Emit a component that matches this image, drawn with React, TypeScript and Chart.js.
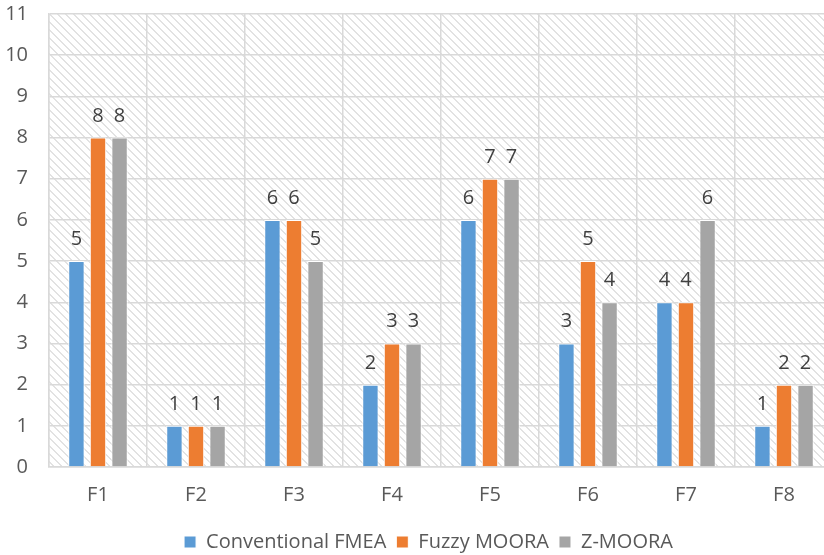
import { useEffect, useRef } from "react";
import { Chart, registerables } from "chart.js";

Chart.register(...registerables);

const categories = ["F1", "F2", "F3", "F4", "F5", "F6", "F7", "F8"];
const conventionalFMEA = [5, 1, 6, 2, 6, 3, 4, 1];
const fuzzyMOORA = [8, 1, 6, 3, 7, 5, 4, 2];
const zMOORA = [8, 1, 5, 3, 7, 4, 6, 2];
const seriesNames = ["Conventional FMEA", "Fuzzy MOORA", "Z-MOORA"];
const seriesColors = ["#5B9BD5", "#ED7D31", "#A5A5A5"];
const yMin = 0;
const yMax = 11;
const yStep = 1;

const FONT = "'Open Sans', 'DejaVu Sans', sans-serif";
const FS = 20;
const SHIFT = 19;

function makePattern(ctx: CanvasRenderingContext2D) {
  const c = document.createElement("canvas");
  c.width = 8;
  c.height = 8;
  const g = c.getContext("2d")!;
  g.fillStyle = "#ffffff";
  g.fillRect(0, 0, 8, 8);
  g.fillStyle = "#e2e2e2";
  for (let y = 0; y < 8; y++) {
    for (let x = 0; x < 8; x++) {
      const d = (((x - y) % 8) + 8) % 8;
      if (d === 0 || d === 1) g.fillRect(x, y, 1, 1);
    }
  }
  return ctx.createPattern(c, "repeat");
}

const hatchPlugin = {
  id: "hatchBg",
  beforeDraw(chart: any) {
    const { ctx, chartArea } = chart;
    if (!chartArea) return;
    ctx.save();
    const p = makePattern(ctx);
    if (p) ctx.fillStyle = p;
    ctx.fillRect(chartArea.left, chartArea.top, chartArea.right - chartArea.left, chartArea.bottom - chartArea.top);
    ctx.restore();
  },
};

const legendShift = {
  id: "legendShift",
  afterLayout(chart: any) {
    const lg = chart.legend;
    if (lg) {
      lg.left += 12;
      lg.right += 12;
      lg.top += 7;
      lg.bottom += 7;
    }
  },
};

const dataLabels = {
  id: "dataLabels",
  afterDatasetsDraw(chart: any) {
    const { ctx } = chart;
    ctx.save();
    ctx.font = `${FS}px ${FONT}`;
    ctx.fillStyle = "#404040";
    ctx.textAlign = "center";
    ctx.textBaseline = "alphabetic";
    chart.data.datasets.forEach((ds: any, i: number) => {
      const meta = chart.getDatasetMeta(i);
      meta.data.forEach((bar: any, j: number) => {
        ctx.fillText(String(ds.data[j]), bar.x, bar.y - 16);
      });
    });
    ctx.restore();
  },
};

export default function App() {
  const ref = useRef<HTMLCanvasElement>(null);
  useEffect(() => {
    if (!ref.current) return;
    const seriesData = [conventionalFMEA, fuzzyMOORA, zMOORA];
    const chart = new Chart(ref.current, {
      type: "bar",
      data: {
        labels: categories,
        datasets: seriesNames.map((name, i) => ({
          label: name,
          data: seriesData[i],
          backgroundColor: seriesColors[i],
          borderColor: "#ffffff",
          borderWidth: 1,
          barPercentage: 0.76,
          categoryPercentage: 0.66,
        })),
      },
      options: {
        responsive: false,
        animation: false,
        devicePixelRatio: 1,
        layout: { padding: { left: 0, right: 23, top: -11, bottom: 0 } },
        plugins: {
          tooltip: { enabled: false },
          legend: {
            position: "bottom",
            labels: {
              font: { family: FONT, size: FS },
              color: "#595959",
              boxWidth: 12,
              boxHeight: 12,
              padding: 10,
            },
          },
        },
        scales: {
          x: {
            grid: { color: "#d9d9d9", lineWidth: 1.5, drawTicks: false, offset: true },
            border: { color: "#d9d9d9", width: 1.5 },
            ticks: { font: { family: FONT, size: FS }, color: "#595959", padding: 16 },
            afterFit(scale: any) {
              scale.height = 48;
            },
          },
          y: {
            min: yMin,
            max: yMax,
            grid: { color: "#d9d9d9", lineWidth: 1.5, drawTicks: false },
            border: { color: "#d9d9d9", width: 1.5 },
            ticks: { stepSize: yStep, font: { family: FONT, size: FS }, color: "#595959", padding: 21 },
            afterFit(scale: any) {
              scale.width = 49;
            },
          },
        },
      },
      plugins: [hatchPlugin, dataLabels, legendShift],
    });
    return () => chart.destroy();
  }, []);
  return (
    <div style={{ position: "fixed", left: 0, top: 0, width: 824, height: 555, overflow: "hidden", background: "#fff" }}>
      <canvas
        ref={ref}
        width={856}
        height={555 + SHIFT}
        style={{ width: 856, height: 555 + SHIFT, display: "block", marginTop: -SHIFT }}
      />
    </div>
  );
}
